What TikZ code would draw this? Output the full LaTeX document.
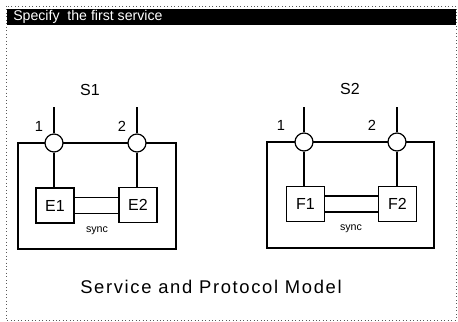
\documentclass[tikz,border=0pt]{standalone}
\usepackage{fontspec}
\setmainfont{Liberation Sans}
\begin{document}
\begin{tikzpicture}[x=0.75pt,y=-0.75pt,
  port/.style={circle,draw,fill=white,inner sep=0pt,minimum size=13.5pt,line width=0.9pt},
  entity/.style={draw,minimum width=28.5pt,minimum height=26.25pt,inner sep=0pt,line width=0.9pt,font=\fontsize{12}{13}\selectfont},
  lbl/.style={inner sep=0pt,font=\fontsize{11}{12}\selectfont},
  syslbl/.style={inner sep=0pt,font=\fontsize{12}{13}\selectfont},
  synclbl/.style={inner sep=0pt,font=\fontsize{8}{9}\selectfont},
  wire/.style={line width=0.9pt}]
\useasboundingbox (0,0) rectangle (458,322);
% window frame
\draw[dotted,line width=0.6pt,gray!70!black] (6,6) rectangle (456,320);
\fill[black] (7,9) rectangle (456,25);
\node[anchor=west,inner sep=0pt,text=white,font=\fontsize{10.6}{11}\selectfont] (title) at (13,17) {Specify\ \ the first service};
% ---------- S1 ----------
\node[syslbl] (s1) at (90,90) {S1};
\draw[wire] (18,143) rectangle (176,249);
\coordinate (t11) at (54,107);
\coordinate (t12) at (137,107);
\node[port] (c11) at (54,143) {};
\node[port] (c12) at (137,143) {};
\node[lbl] (n11) at (39,126) {1};
\node[lbl] (n12) at (122,126) {2};
\node[entity] (e1) at (55,205.5) {E1};
\node[entity] (e2) at (138,205) {E2};
\draw[wire] (t11) -- (c11);
\draw[wire] (t12) -- (c12);
\draw[wire] (c11) -- (c11 |- e1.north);
\draw[wire] (c12) -- (c12 |- e2.north);
\draw[wire] ([yshift=6pt]e1.east) -- ([yshift=6pt]e1.east -| e2.west);
\draw[wire] ([yshift=-6pt]e1.east) -- ([yshift=-6pt]e1.east -| e2.west);
\node[synclbl] (sy1) at (97,231) {sync};
% ---------- S2 ----------
\node[syslbl] (s2) at (350,89) {S2};
\draw[wire] (267,142) rectangle (434,248);
\coordinate (t21) at (304,107);
\coordinate (t22) at (397,107);
\node[port] (c21) at (304,142) {};
\node[port] (c22) at (397,142) {};
\node[lbl] (n21) at (281,125) {1};
\node[lbl] (n22) at (372,125) {2};
\node[entity] (f1) at (305.5,204) {F1};
\node[entity] (f2) at (397.5,204) {F2};
\draw[wire] (t21) -- (c21);
\draw[wire] (t22) -- (c22);
\draw[wire] (c21) -- (c21 |- f1.north);
\draw[wire] (c22) -- (c22 |- f2.north);
\draw[wire] ([yshift=6pt]f1.east) -- ([yshift=6pt]f1.east -| f2.west);
\draw[wire] ([yshift=-6pt]f1.east) -- ([yshift=-6pt]f1.east -| f2.west);
\node[synclbl] (sy2) at (351,229) {sync};
% caption
\node[inner sep=0pt,font=\fontsize{13.8}{15}\selectfont\addfontfeature{LetterSpace=9}] (cap) at (211,287) {Service and Protocol Model};
\end{tikzpicture}
\end{document}
